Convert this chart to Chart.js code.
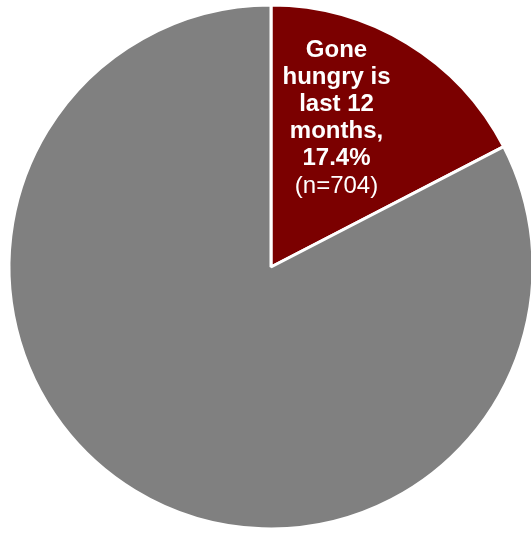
<!DOCTYPE html>
<html lang="en">
<head>
    <meta charset="UTF-8">
    <title>Gone hungry</title>
    <script src="https://cdn.jsdelivr.net/npm/chart.js"></script>
    <style>
        html, body { margin: 0; padding: 0; overflow: hidden; background: #fff; }
        canvas { display: block; }
    </style>
</head>
<body>

    <canvas id="hungerChart" width="542" height="534"></canvas>

    <script>
        // data
        const categories = ['Gone hungry is last 12 months', 'Not gone hungry'];
        const shares = [17.4, 82.6];
        const counts = [704, null];
        const sliceColors = ['#7b0000', '#808080'];
        const labelWords = ['Gone', 'hungry is', 'last 12', 'months,'];

        // draws the text inside the red slice
        const sliceLabel = {
            id: 'sliceLabel',
            afterDatasetsDraw(chart) {
                const arc = chart.getDatasetMeta(0).data[0];
                const ctx = chart.ctx;
                const R = arc.outerRadius;
                const cx = arc.x + 0.25 * R;
                let y = arc.y - 0.803 * R;
                const step = 27.2;
                ctx.save();
                ctx.fillStyle = '#ffffff';
                ctx.textAlign = 'center';
                ctx.textBaseline = 'alphabetic';
                ctx.font = 'bold 24px "Liberation Sans", Arial, sans-serif';
                labelWords.concat([shares[0] + '%']).forEach(t => {
                    ctx.fillText(t, cx, y);
                    y += step;
                });
                ctx.font = '24px "Liberation Sans", Arial, sans-serif';
                ctx.fillText('(n=' + counts[0] + ')', cx, y);
                ctx.restore();
            }
        };

        const ctxHunger = document.getElementById('hungerChart').getContext('2d');
        new Chart(ctxHunger, {
            type: 'pie',
            data: {
                labels: categories,
                datasets: [{
                    data: shares,
                    backgroundColor: sliceColors,
                    borderColor: '#ffffff',
                    borderWidth: 3,
                    hoverOffset: 0
                }]
            },
            options: {
                responsive: false,
                animation: false,
                layout: { padding: { left: 7.5, right: 7.5, top: 3.5, bottom: 3.5 } },
                plugins: {
                    legend: { display: false },
                    tooltip: { enabled: false }
                }
            },
            plugins: [sliceLabel]
        });
    </script>

</body>
</html>
